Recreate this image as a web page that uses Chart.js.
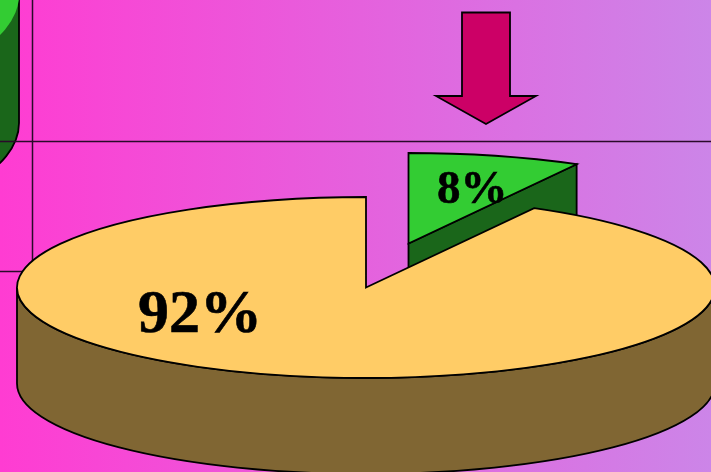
<!DOCTYPE html>
<html>
<head>
<meta charset="utf-8">
<style>
  html, body { margin: 0; padding: 0; overflow: hidden; }
  canvas { display: block; }
</style>
</head>
<body>
<canvas id="pieChart" width="711" height="472"></canvas>
<script src="https://cdn.jsdelivr.net/npm/chart.js@4"></script>
<script>
// Slices, clockwise from twelve o'clock
const sliceLabels = ['8%', '92%'];
const sliceValues = [8, 92];
const topColors = ['#33CC33', '#FFCC66'];
const sideColors = ['#1A661A', '#806633'];

// Fake 3D look: the round pie gets flattened into an ellipse and extruded
const rx = 349, ry = 90.5, depth = 96;
const centerX = 366, centerY = 287.5;
const sliceShift = [[42.5, -44], [0, 0]];
const labelPos = [[437, 203], [138, 332]];
const labelFont = ['bold 47px "Liberation Serif"', 'bold 62px "Liberation Serif"'];

function slicePath(ctx, x, y, arc) {
    ctx.beginPath();
    ctx.moveTo(x, y);
    ctx.ellipse(x, y, rx, ry, 0, arc.startAngle, arc.endAngle);
    ctx.closePath();
}

function wallPath(ctx, x, y, arc, i) {
    ctx.beginPath();
    if (i === 0) {
        // only the cut face of the small slice can be seen
        const ex = x + rx * Math.cos(arc.endAngle), ey = y + ry * Math.sin(arc.endAngle);
        ctx.moveTo(x, y);
        ctx.lineTo(ex, ey);
        ctx.lineTo(ex, ey + depth);
        ctx.lineTo(x, y + depth);
    } else {
        // front half of the big slice
        ctx.ellipse(x, y + depth, rx, ry, 0, 0, Math.PI);
        ctx.ellipse(x, y, rx, ry, 0, Math.PI, 0, true);
    }
    ctx.closePath();
}

function drawSlice(ctx, arc, i) {
    const x = centerX + sliceShift[i][0];
    const y = centerY + sliceShift[i][1];

    ctx.strokeStyle = '#000';
    ctx.lineWidth = 1.8;
    wallPath(ctx, x, y, arc, i);
    ctx.fillStyle = sideColors[i];
    ctx.fill();
    ctx.stroke();

    slicePath(ctx, x, y, arc);
    ctx.fillStyle = topColors[i];
    ctx.fill();
    ctx.stroke();
}

const pie3d = {
    id: 'pie3d',
    beforeDatasetDraw(chart) {
        const ctx = chart.ctx;
        const w = chart.width, h = chart.height;

        const bg = ctx.createLinearGradient(0, 0, w, 0);
        bg.addColorStop(0, '#FF3CD2');
        bg.addColorStop(1, '#CC85E8');
        ctx.fillStyle = bg;
        ctx.fillRect(0, 0, w, h);

        // piece of the neighbouring pie, cut off by the left edge
        ctx.strokeStyle = '#000';
        ctx.lineWidth = 1.8;
        ctx.beginPath();
        ctx.ellipse(-163, 123, 182, 90, 0, 0, Math.PI / 2);
        ctx.lineTo(-163, -5);
        ctx.lineTo(19, -5);
        ctx.closePath();
        ctx.fillStyle = '#1A661A';
        ctx.fill();
        ctx.stroke();
        ctx.beginPath();
        ctx.ellipse(-163, -5, 182, 90, 0, 0, Math.PI / 2);
        ctx.lineTo(-163, -5);
        ctx.closePath();
        ctx.fillStyle = '#33CC33';
        ctx.fill();

        // thin rules
        ctx.strokeStyle = '#2A0A2A';
        ctx.lineWidth = 1.5;
        ctx.beginPath();
        ctx.moveTo(0, 141.5);
        ctx.lineTo(w, 141.5);
        ctx.moveTo(32.5, 0);
        ctx.lineTo(32.5, 272);
        ctx.moveTo(0, 271.5);
        ctx.lineTo(33, 271.5);
        ctx.stroke();

        // arrow pointing at the small slice
        ctx.beginPath();
        ctx.moveTo(462, 12.5);
        ctx.lineTo(510, 12.5);
        ctx.lineTo(510, 96);
        ctx.lineTo(536, 96);
        ctx.lineTo(486, 124);
        ctx.lineTo(436, 96);
        ctx.lineTo(462, 96);
        ctx.closePath();
        ctx.fillStyle = '#CC0066';
        ctx.fill();
        ctx.strokeStyle = '#000';
        ctx.lineWidth = 1.8;
        ctx.stroke();

        // small slice sits behind the big one
        const arcs = chart.getDatasetMeta(0).data;
        drawSlice(ctx, arcs[0], 0);
        drawSlice(ctx, arcs[1], 1);

        ctx.fillStyle = '#000';
        ctx.strokeStyle = '#000';
        ctx.lineWidth = 0.6;
        ctx.textAlign = 'left';
        ctx.textBaseline = 'alphabetic';
        sliceLabels.forEach((label, i) => {
            ctx.font = labelFont[i];
            ctx.fillText(label, labelPos[i][0], labelPos[i][1]);
            ctx.strokeText(label, labelPos[i][0], labelPos[i][1]);
        });
        return false;
    }
};

new Chart(document.getElementById('pieChart'), {
    type: 'pie',
    data: {
        labels: sliceLabels,
        datasets: [{ data: sliceValues, backgroundColor: topColors, borderColor: '#000' }]
    },
    options: {
        responsive: false,
        animation: false,
        plugins: { legend: { display: false }, tooltip: { enabled: false } }
    },
    plugins: [pie3d]
});
</script>
</body>
</html>
